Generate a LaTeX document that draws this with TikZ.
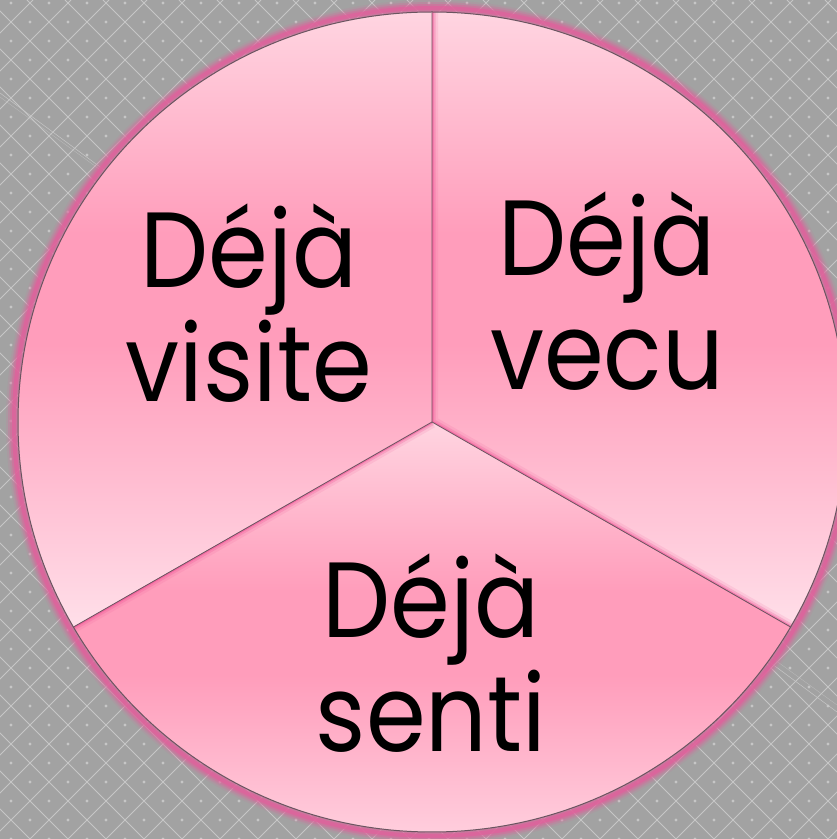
\documentclass[tikz,border=0pt]{standalone}
\usepackage{fontspec}
\setmainfont{Poppins}[FakeStretch=0.9]
\usetikzlibrary{calc}
\definecolor{bggray}{HTML}{A2A2A2}
\definecolor{gridgray}{HTML}{C6C6C6}
\definecolor{pinklight}{HTML}{FFD5E1}
\definecolor{pinkmid}{HTML}{FF9DBB}
\definecolor{pinkpale}{HTML}{FFDFE9}
\definecolor{pinkglow}{HTML}{EE4C92}
\definecolor{rimpink}{HTML}{DF629C}
\definecolor{edgegray}{HTML}{6A5560}
\pgfdeclareverticalshading{sectorshade}{100bp}{color(0bp)=(pinkpale); color(25bp)=(pinkpale);
  color(48bp)=(pinkmid); color(57bp)=(pinkmid); color(75bp)=(pinklight); color(100bp)=(pinklight)}
\tikzset{
  sectorfill/.style={shading=sectorshade},
  divider/.style={draw=edgegray, line width=0.8pt},
  sectortext/.style={font=\fontsize{107}{114}\selectfont, align=center, anchor=base, text=black},
}
\begin{document}
\begin{tikzpicture}[x=1pt,y=1pt]
\useasboundingbox (0,0) rectangle (837,839);

% background lattice
\fill[bggray] (0,0) rectangle (837,839);
\begin{scope}
\clip (0,0) rectangle (837,839);
\foreach \k in {-23,...,22}
  \draw[gridgray, line width=1pt] ({30+38*\k},0) -- ++(839,839);
\foreach \k in {0,...,44}
  \draw[gridgray, line width=1pt] ({30+38*\k},0) -- ++(-839,839);
\foreach \i in {0,...,22}
  \foreach \j in {0,...,22}{
    \fill[gridgray] ({11+38*\i},{38*\j}) circle (1.6);
    \fill[gridgray] ({30+38*\i},{19+38*\j}) circle (1.6);
  }
\draw[gridgray, line width=0.5pt] (0,746) -- (837,127);
\draw[gridgray, line width=0.4pt, opacity=0.6] (0,742) -- (837,134);
\end{scope}

% points of the wheel
\coordinate (C) at (432,417);
\coordinate (top) at ($(C)+(90:414pt and 410pt)$);
\coordinate (lowleft) at ($(C)+(210:414pt and 410pt)$);
\coordinate (lowright) at ($(C)+(-30:414pt and 410pt)$);

% pink rim glow
\foreach \w/\o in {16/0.12, 12/0.25, 8/0.45, 4/0.8}
  \draw[rimpink, opacity=\o, line width=\w pt] (C) ellipse[x radius=418pt, y radius=414pt];

% sectors
\shade[sectorfill] (C) -- (top) arc[start angle=90, end angle=210, x radius=414pt, y radius=410pt] -- cycle;
\shade[sectorfill] (C) -- (lowright) arc[start angle=-30, end angle=90, x radius=414pt, y radius=410pt] -- cycle;
\shade[sectorfill] (C) -- (lowleft) arc[start angle=210, end angle=330, x radius=414pt, y radius=410pt] -- cycle;

% inner shadows along the cuts
\begin{scope}
\clip (C) -- (lowright) arc[start angle=-30, end angle=90, x radius=414pt, y radius=410pt] -- cycle;
\foreach \w/\o in {12/0.12, 7/0.25, 3/0.5}
  \draw[pinkglow, opacity=\o, line width=\w pt] (top) -- (C) -- (lowright);
\end{scope}
\begin{scope}
\clip (C) -- (lowleft) arc[start angle=210, end angle=330, x radius=414pt, y radius=410pt] -- cycle;
\foreach \w/\o in {12/0.12, 7/0.25, 3/0.5}
  \draw[pinkglow, opacity=\o, line width=\w pt] (C) -- (lowleft);
\end{scope}

% cuts and outline
\draw[divider] (top) -- (C) -- (lowleft);
\draw[divider] (C) -- (lowright);
\draw[edgegray, line width=1pt] (C) ellipse[x radius=414pt, y radius=410pt];

% labels
\node[sectortext] (visite) at (249,437) {Déjà\\visite};
\node[sectortext] (vecu) at (607,449) {Déjà\\vecu};
\node[sectortext] (senti) at (431,87) {Déjà\\senti};

\end{tikzpicture}
\end{document}
